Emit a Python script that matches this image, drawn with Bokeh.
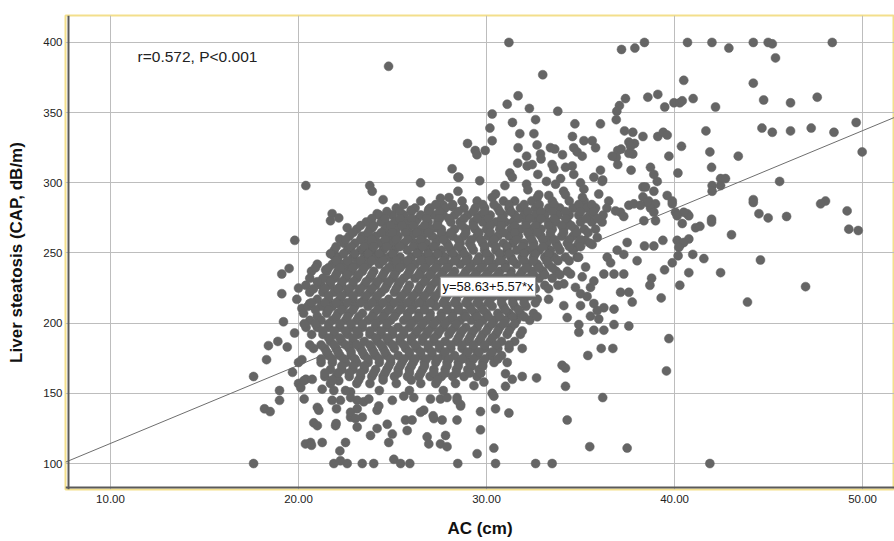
from bokeh.plotting import figure
from bokeh.models import Label, Span, FixedTicker, Range1d
from bokeh.embed import file_html
from bokeh.resources import INLINE

# ---------------- data ----------------
x_ticks = [10, 20, 30, 40, 50]
x_tick_labels = ["10.00", "20.00", "30.00", "40.00", "50.00"]
y_ticks = [100, 150, 200, 250, 300, 350, 400]

fit_intercept = 58.63
fit_slope = 5.57
r_text = "r=0.572, P<0.001"
eq_text = "y=58.63+5.57*x"

# left / upper-left periphery
left_ac = [20.39, 19.80, 19.50, 19.11, 20.00, 20.39, 19.11, 19.91,
           20.18, 19.20, 19.79, 18.90, 18.40, 19.40, 18.30, 20.00,
           20.18, 17.61, 19.68, 20.00, 20.12, 20.39, 18.99, 18.99,
           20.30, 18.19, 18.49, 17.61, 20.37, 20.27, 20.40, 23.79,
           23.92, 26.49, 28.48, 28.48, 24.50, 24.18, 21.79, 22.14,
           21.70, 22.59, 22.19, 23.38, 23.92, 24.63, 25.25, 25.69,
           26.13, 25.99, 26.31, 26.93, 27.55, 27.70, 28.17, 26.84,
           27.29, 27.38, 24.96, 25.07, 23.83, 23.56, 21.88, 22.14,
           22.77, 22.50, 21.44, 20.69, 21.21, 21.61, 22.20, 20.60,
           21.53, 22.06, 21.00, 23.65, 24.54, 24.79]
left_cap = [298, 259, 239, 235, 225, 227, 221, 217,
            210.5, 201, 193, 187, 184, 183, 174, 172,
            174, 162, 165, 157, 154, 160, 152, 145,
            146, 139, 137, 100, 114, 207, 197, 298,
            294, 300, 304, 294, 288, 278, 278, 275,
            273, 268, 260, 262, 268, 271, 271, 266,
            263.5, 280.5, 274, 281, 289, 284, 283, 266,
            268, 260, 259, 255, 255, 249, 248, 243,
            241, 237, 238, 237, 227, 231, 225.5, 214,
            209, 214, 205, 242, 246, 383]

# lower periphery
lower_ac = [21.00, 21.08, 20.81, 21.00, 20.64, 20.69, 21.26, 22.20,
            21.88, 22.23, 22.59, 23.39, 24.00, 25.07, 25.43, 25.92,
            28.47, 22.50, 21.97, 22.00, 22.77, 23.12, 23.39, 23.83,
            24.18, 24.72, 24.99, 24.80, 25.69, 26.04, 25.78, 26.84,
            26.93, 27.55, 27.90, 27.82, 27.20, 27.64, 28.43, 26.66,
            27.16, 21.79, 22.23, 22.02, 21.88, 22.77, 23.12, 22.77,
            23.47, 23.74, 24.18, 24.27, 23.12, 22.77, 23.03, 22.14,
            20.28, 20.73, 21.26, 24.99, 25.60, 26.13, 26.49, 27.02,
            27.55, 27.90, 28.43, 28.62, 28.35, 34.20, 36.18, 34.29,
            35.49, 37.48, 32.61, 33.49, 30.48, 30.39, 29.50, 29.68,
            29.68, 30.48, 31.19, 30.30, 30.39, 31.01, 31.37, 31.90,
            32.66, 31.01, 29.86, 29.33, 28.62, 28.44, 41.88, 39.57,
            39.70, 35.39, 36.10, 36.72, 34.02, 34.20]
lower_cap = [140, 138, 129, 127, 115, 113, 115, 109,
             100, 102, 100, 100, 100, 103, 100, 100,
             100, 115, 127, 128.5, 133, 126, 133, 120,
             125, 128, 121, 115, 131, 131, 123.5, 119,
             114, 114, 112, 120, 132, 131, 131, 138,
             134, 145, 145, 139, 152, 151, 145, 147,
             144, 146, 138, 141, 139, 136.5, 132, 159,
             159, 160, 153, 145, 148, 147, 136.5, 146,
             146, 147, 147, 141, 157, 155, 147, 131,
             112, 111, 100, 100, 100, 111, 107, 124,
             137, 139, 136, 150, 148, 155, 160, 162,
             161, 164, 158, 155.5, 142, 145, 100, 166,
             189, 177, 182, 182, 170, 168]

# upper periphery
upper_ac = [31.19, 37.18, 37.89, 38.40, 32.99, 31.68, 31.10, 32.28,
            30.30, 33.79, 37.39, 38.58, 39.11, 37.07, 36.93, 36.90,
            36.06, 34.70, 32.61, 31.38, 30.18, 30.30, 31.77, 32.52,
            28.99, 29.40, 29.49, 29.93, 28.17, 28.53, 29.64, 31.68,
            32.69, 33.40, 33.63, 32.87, 34.04, 32.13, 31.66, 32.16,
            32.43, 32.90, 33.49, 33.58, 34.57, 35.18, 35.62, 35.80,
            34.64, 34.82, 35.09, 34.20, 34.56, 34.64, 31.24, 31.37,
            32.73, 33.19, 33.67, 33.94, 35.71, 36.18, 36.06, 35.00,
            35.18, 30.98, 30.48, 32.13, 32.20, 32.78, 33.31, 34.10,
            34.20, 35.97, 36.98, 36.90, 36.98, 37.16, 37.34, 37.78,
            38.32, 37.87, 37.78, 37.69, 39.11, 38.72, 38.90, 38.32,
            38.46, 38.90, 38.32]
upper_cap = [400, 395, 396, 400, 377, 362, 356, 353,
             349, 351, 360, 361, 363, 355, 351, 345,
             342, 342, 345, 343, 339, 330, 335, 335,
             328, 323, 320, 323, 310, 304, 301.5, 325,
             327, 325, 324, 320.5, 320, 319, 314, 312,
             313, 317, 313, 310, 333, 330, 330, 325,
             325, 322, 319, 311, 312, 306, 307, 304,
             306, 301, 299, 303, 304, 302, 309, 300,
             295.5, 298, 292, 299, 295, 291.5, 291, 294,
             291.5, 292, 323, 318, 313, 324, 337, 336,
             333, 328, 320.5, 309, 333, 311, 306, 297,
             297, 294, 290]

# right periphery
right_ac = [40.69, 41.99, 42.89, 44.19, 44.98, 45.20, 45.37, 48.39,
            40.49, 44.19, 39.48, 39.97, 40.28, 40.41, 40.99, 42.18,
            44.74, 46.17, 47.59, 39.40, 39.61, 41.67, 44.65, 45.20,
            46.17, 47.27, 48.48, 49.66, 49.98, 37.57, 37.66, 36.69,
            37.57, 40.37, 39.70, 41.88, 43.39, 41.97, 40.18, 39.08,
            36.15, 42.00, 42.00, 42.45, 42.71, 42.45, 45.59, 44.19,
            48.03, 39.61, 38.63, 44.19, 44.49, 44.98, 45.96, 47.77,
            49.18, 49.27, 49.77, 43.03, 41.97, 41.97, 41.12, 41.35,
            40.67, 40.41, 40.76, 40.49, 40.05, 40.14, 39.88, 39.88,
            38.99, 38.72, 38.90, 38.54, 38.99, 38.37, 39.38, 38.40,
            40.14, 40.32, 40.76, 40.49, 40.23, 40.19, 40.97, 41.56,
            39.88, 39.47, 40.76, 42.45, 44.57, 38.78, 38.69, 40.28,
            39.29, 43.88, 46.97]
right_cap = [400, 400, 396, 400, 400, 399, 389, 400,
             373, 371, 354, 357, 357, 358.4, 360, 354,
             359, 357, 361, 336, 334, 337, 339, 336,
             337, 339, 336, 343, 322, 329, 326, 319,
             321, 326, 319, 322, 319, 311, 307, 301,
             301, 298, 294, 303, 303, 298, 301, 288,
             287, 291, 287, 286, 278, 275, 276, 285,
             280, 267, 266, 263, 274, 272, 268, 269,
             278, 271, 276.5, 279, 279, 276.5, 287, 285,
             285, 282, 279, 286, 273, 273, 259, 255,
             259, 256, 260, 257.5, 254, 248, 249, 246,
             243, 238, 236, 236, 245, 232, 227, 227,
             218, 215, 226]

# middle-right edge of the cloud
mid_ac = [37.57, 37.84, 38.19, 37.13, 36.86, 37.30, 38.90, 37.48,
          36.95, 37.30, 38.01, 36.42, 36.60, 36.78, 37.30, 37.13,
          37.57, 37.75, 36.78, 36.24, 35.71, 35.89, 35.53, 35.97,
          36.78, 37.57, 36.24, 35.71, 34.91, 35.00, 34.91, 34.29,
          34.11, 35.35, 35.53, 36.24, 35.71, 36.15, 35.89, 35.62,
          35.27, 34.73, 34.82, 35.27, 35.09, 34.47, 34.11, 34.73,
          35.00]
mid_cap = [284, 285, 284, 279, 280, 276, 255, 257.5,
           252, 249, 244.5, 247, 243, 235, 235, 222,
           222, 215, 210, 211, 214, 209, 205, 203,
           199, 198, 195, 195, 193.5, 212.5, 199, 204,
           212.5, 219, 225.5, 235, 230, 272, 261, 256,
           259, 254, 247, 240, 233, 235, 228, 225.5,
           221]

# dense core of the cloud (estimated), one CAP level per row
core_cap_levels = [287, 282, 277, 272, 267, 262, 257, 252, 247, 242,
                   237, 232, 227, 222, 217, 212, 207, 202, 197, 192,
                   187, 182, 177, 172, 167, 162, 157, 152]
core_ac_rows = [
    [26.5, 28.7, 29.5, 30.9, 31.5, 32.4, 33.5, 34.4, 35.2, 36.5],
    [25.2, 26.2, 27.0, 27.8, 28.8, 29.4, 29.9, 30.6, 31.2, 31.8, 32.6, 33.3, 33.9, 34.6, 35.3, 35.8, 36.4],
    [24.3, 25.0, 25.6, 26.5, 27.2, 27.7, 28.3, 29.0, 29.7, 30.2, 30.9, 31.5, 32.0, 32.6, 33.1, 33.8, 34.4, 34.9, 35.5, 36.2],
    [23.6, 24.4, 25.1, 25.7, 26.2, 26.9, 27.4, 28.1, 28.6, 29.3, 29.8, 30.5, 31.0, 31.4, 32.1, 32.7, 33.3, 33.7, 34.3, 35.0, 35.6],
    [23.1, 23.8, 24.6, 25.2, 25.8, 26.5, 27.0, 27.6, 28.3, 28.9, 29.4, 30.0, 30.7, 31.3, 31.8, 32.4, 32.9, 33.5, 34.1, 34.7, 35.2, 35.8],
    [22.7, 23.5, 24.1, 24.8, 25.3, 26.0, 26.6, 27.1, 27.8, 28.2, 28.8, 29.5, 30.1, 30.6, 31.2, 31.7, 32.3, 32.9, 33.4, 34.0, 34.6],
    [22.4, 23.0, 23.7, 24.3, 25.0, 25.6, 26.2, 26.8, 27.3, 27.9, 28.6, 29.1, 29.8, 30.3, 30.9, 31.4, 32.0, 32.5, 33.2, 33.7, 34.3, 34.9, 35.5],
    [21.9, 22.6, 23.3, 23.9, 24.5, 25.1, 25.8, 26.4, 26.9, 27.6, 28.1, 28.7, 29.3, 29.9, 30.5, 31.1, 31.6, 32.2, 32.8, 33.4, 33.9, 34.6],
    [22.1, 22.9, 23.5, 24.1, 24.8, 25.4, 26.0, 26.6, 27.2, 27.8, 28.4, 29.0, 29.6, 30.2, 30.8, 31.3, 31.9, 32.5, 33.1, 33.6, 34.2, 34.9],
    [21.0, 21.8, 22.4, 23.1, 23.7, 24.3, 25.0, 25.6, 26.2, 26.8, 27.4, 28.0, 28.6, 29.2, 29.8, 30.4, 31.0, 31.6, 32.2, 32.7, 33.3],
    [21.5, 22.1, 22.8, 23.4, 24.0, 24.6, 25.2, 25.9, 26.5, 27.1, 27.7, 28.3, 28.9, 29.5, 30.1, 30.7, 31.3, 31.9, 32.4, 33.0, 33.7, 34.3],
    [20.6, 21.3, 21.9, 22.5, 23.1, 23.8, 24.4, 25.0, 25.6, 26.2, 26.8, 27.4, 28.0, 28.6, 29.2, 29.8, 30.4, 31.0, 31.6, 32.2, 32.8, 33.5],
    [21.7, 22.3, 22.9, 23.5, 24.1, 24.7, 25.3, 25.9, 26.5, 27.1, 27.7, 28.3, 28.9, 29.5, 30.1, 30.7, 31.3, 31.9, 32.5, 33.1, 33.8],
    [20.6, 21.3, 21.9, 22.6, 23.2, 23.8, 24.4, 25.1, 25.7, 26.3, 26.9, 27.5, 28.1, 28.7, 29.3, 29.9, 30.5, 31.1, 31.7, 32.3],
    [21.0, 21.6, 22.2, 22.9, 23.5, 24.1, 24.8, 25.4, 26.0, 26.6, 27.2, 27.8, 28.4, 29.0, 29.6, 30.2, 30.8, 31.4, 32.0, 32.7, 33.3],
    [20.5, 21.2, 21.8, 22.4, 23.0, 23.7, 24.3, 24.9, 25.5, 26.1, 26.7, 27.3, 27.9, 28.5, 29.1, 29.7, 30.3, 30.9, 31.5, 32.1],
    [21.5, 22.1, 22.7, 23.4, 24.0, 24.6, 25.2, 25.8, 26.4, 27.0, 27.6, 28.2, 28.8, 29.4, 30.0, 30.6, 31.2, 31.8, 32.5],
    [20.6, 21.2, 21.8, 22.5, 23.1, 23.7, 24.3, 24.9, 25.6, 26.2, 26.8, 27.4, 28.0, 28.6, 29.2, 29.8, 30.4, 31.0, 31.6, 32.3],
    [21.0, 21.6, 22.2, 22.8, 23.4, 24.1, 24.7, 25.3, 25.9, 26.5, 27.1, 27.7, 28.3, 28.9, 29.5, 30.1, 30.7, 31.3],
    [20.7, 21.3, 21.9, 22.6, 23.2, 23.8, 24.4, 25.0, 25.6, 26.2, 26.8, 27.4, 28.0, 28.6, 29.2, 29.8, 30.5, 31.1, 31.8],
    [21.7, 22.3, 22.9, 23.5, 24.2, 24.8, 25.4, 26.0, 26.6, 27.2, 27.8, 28.4, 29.0, 29.6, 30.2, 30.8, 31.5],
    [20.8, 21.4, 22.0, 22.7, 23.3, 23.9, 24.5, 25.1, 25.7, 26.3, 26.9, 27.5, 28.1, 28.7, 29.3, 29.9, 30.6, 31.2, 31.9],
    [21.6, 22.2, 22.8, 23.5, 24.1, 24.7, 25.3, 25.9, 26.5, 27.1, 27.7, 28.3, 28.9, 29.5, 30.2, 30.8],
    [21.2, 21.8, 22.5, 23.1, 23.7, 24.3, 24.9, 25.5, 26.1, 26.7, 27.3, 27.9, 28.5, 29.1, 29.8, 30.4, 31.1],
    [21.7, 22.3, 22.9, 23.5, 24.1, 24.7, 25.3, 25.9, 26.6, 27.2, 27.8, 28.4, 29.0, 29.6],
    [21.4, 22.0, 22.7, 23.3, 23.9, 24.5, 25.1, 25.8, 26.4, 27.0, 27.6, 28.2, 28.8, 29.5],
    [21.7, 23.1, 23.8, 25.2, 26.5, 27.3],
    [22.5, 24.3, 25.9, 27.7],
]

# second, interleaved layer of the dense core (estimated)
core2_cap_levels = [289.5, 284.5, 279.5, 274.5, 269.5, 264.5, 259.5, 254.5, 249.5,
                    244.5, 239.5, 234.5, 229.5, 224.5, 219.5, 214.5, 209.5, 204.5,
                    199.5, 194.5, 189.5, 184.5, 179.5, 174.5, 169.5, 164.5, 159.5]
core2_ac_rows = [
    [28.0, 30.3, 32.7, 35.1],
    [25.6, 27.3, 28.2, 29.8, 30.4, 31.2, 32.0, 32.8, 33.6, 34.9, 35.6],
    [24.7, 25.4, 26.0, 26.9, 27.5, 28.5, 29.3, 29.9, 30.7, 31.3, 32.2, 32.9, 33.5, 34.2, 35.0, 35.7],
    [23.9, 24.6, 25.4, 26.0, 26.8, 27.5, 28.0, 28.8, 29.5, 30.1, 30.8, 31.7, 32.3, 32.9, 33.6, 34.2, 35.3, 35.9],
    [23.3, 24.0, 24.9, 25.5, 26.1, 26.7, 27.4, 28.7, 29.3, 30.2, 30.8, 31.5, 32.1, 32.6, 33.3, 34.0, 34.5],
    [22.9, 23.7, 24.4, 25.0, 25.7, 26.3, 26.9, 27.6, 28.1, 28.9, 29.6, 30.2, 30.9, 31.5, 32.2, 32.7, 33.4, 34.1, 34.8, 35.4],
    [22.5, 23.3, 23.9, 24.6, 25.2, 25.8, 26.5, 27.7, 28.5, 29.2, 29.7, 30.4, 31.6, 32.4, 33.0, 33.6, 34.4, 35.0],
    [22.0, 22.8, 23.5, 24.0, 24.7, 25.4, 26.1, 26.6, 27.2, 28.0, 28.5, 29.2, 29.9, 30.5, 31.1, 31.9, 32.5, 33.0, 33.8, 34.4, 35.0],
    [21.7, 22.4, 23.0, 23.7, 24.3, 25.0, 26.3, 26.9, 27.4, 28.2, 28.8, 30.0, 30.7, 31.2, 32.0, 32.6, 33.3],
    [22.0, 22.6, 23.3, 23.9, 24.5, 25.2, 25.8, 26.5, 27.0, 27.7, 28.3, 28.9, 29.5, 30.1, 30.7, 31.4, 32.0, 32.5, 33.2, 33.8, 34.4],
    [20.9, 21.6, 22.2, 22.9, 23.5, 24.8, 25.4, 26.0, 26.7, 27.3, 27.9, 29.1, 29.7, 30.3, 31.0, 32.1, 32.8, 33.5],
    [22.0, 22.6, 23.2, 23.9, 24.5, 25.1, 25.8, 26.4, 27.0, 27.6, 28.2, 28.8, 29.4, 30.0, 30.6, 31.3, 31.8, 32.5, 33.1, 33.9],
    [21.0, 21.7, 22.3, 22.9, 23.6, 24.2, 24.8, 25.4, 26.7, 27.3, 27.9, 28.5, 29.1, 29.7, 30.9, 31.5, 32.1],
    [20.8, 21.4, 22.1, 22.7, 23.3, 23.9, 24.6, 25.2, 25.8, 26.4, 27.0, 27.6, 28.2, 28.8, 29.5, 30.1, 30.7, 31.4, 32.0, 32.6, 33.3],
    [21.6, 22.3, 22.9, 23.6, 24.2, 25.5, 26.1, 26.7, 27.3, 27.9, 29.2, 29.8, 30.4, 31.0, 31.7, 32.3],
    [20.7, 21.4, 22.0, 22.6, 23.3, 23.9, 24.5, 25.1, 25.8, 26.4, 27.0, 27.7, 28.3, 28.9, 29.5, 30.1, 30.8, 31.4, 32.0, 32.6],
    [20.9, 21.6, 22.3, 22.9, 24.2, 24.8, 25.4, 26.0, 26.7, 27.9, 28.5, 29.2, 29.8, 31.0, 31.7],
    [22.0, 22.6, 23.2, 23.9, 24.5, 25.1, 25.8, 26.4, 27.0, 27.6, 28.2, 28.9, 29.5, 30.1, 30.7, 31.4, 32.0, 32.7],
    [20.3, 20.9, 21.6, 22.2, 22.8, 23.4, 24.1, 24.7, 26.0, 26.6, 27.2, 27.8, 28.4, 29.6, 30.3, 30.9, 31.5],
    [21.3, 21.9, 22.5, 23.1, 23.8, 24.4, 25.0, 25.6, 26.3, 26.9, 27.5, 28.1, 28.7, 29.3, 30.0, 30.6, 31.2, 31.9],
    [21.6, 22.2, 22.9, 24.1, 24.7, 25.4, 26.0, 26.6, 27.2, 28.5, 29.1, 29.7, 30.3],
    [20.6, 21.2, 21.9, 22.5, 23.1, 23.8, 24.4, 25.0, 25.6, 26.2, 26.9, 27.5, 28.1, 28.7, 29.3, 29.9, 30.5, 31.2],
    [21.5, 22.1, 22.8, 23.4, 24.0, 24.6, 25.9, 26.5, 27.1, 27.8, 29.0, 29.6, 30.3],
    [21.2, 21.8, 22.4, 23.0, 23.7, 24.3, 24.9, 25.6, 26.2, 26.8, 27.4, 28.0, 28.7, 29.3, 29.9, 30.6],
    [22.3, 22.9, 23.5, 24.8, 25.4, 26.0, 26.7, 27.9, 28.5, 29.2, 29.8],
    [21.4, 22.1, 22.7, 23.3, 24.0, 24.6, 25.3, 25.9, 26.5, 27.2, 27.8, 28.4, 29.1, 29.7],
    [21.8, 23.2, 24.5, 26.0, 27.4],
]

# ---------------- assemble ----------------
ac = left_ac + lower_ac + upper_ac + right_ac + mid_ac
cap = left_cap + lower_cap + upper_cap + right_cap + mid_cap
for levels, rows in ((core_cap_levels, core_ac_rows), (core2_cap_levels, core2_ac_rows)):
    for level, row in zip(levels, rows):
        ac = ac + row
        cap = cap + [level] * len(row)

FONT = "Liberation Sans"
X0, X1 = 7.606, 51.70
Y0, Y1 = 81.5, 419.2

p = figure(width=894, height=541, x_range=Range1d(X0, X1), y_range=Range1d(Y0, Y1),
           output_backend="svg", toolbar_location=None,
           min_border_left=65, min_border_right=0, min_border_top=15, min_border_bottom=52)
p.background_fill_color = "white"
p.border_fill_color = "white"
p.outline_line_color = "#f3df8c"
p.outline_line_width = 2

# grid
p.xgrid.ticker = FixedTicker(ticks=x_ticks)
p.ygrid.ticker = FixedTicker(ticks=y_ticks)
for g in (p.xgrid, p.ygrid):
    g.grid_line_color = "#bdbdbd"
    g.grid_line_width = 1

# axes
p.xaxis.ticker = FixedTicker(ticks=x_ticks)
p.xaxis.major_label_overrides = {t: l for t, l in zip(x_ticks, x_tick_labels)}
p.yaxis.ticker = FixedTicker(ticks=y_ticks)
for ax in (p.xaxis, p.yaxis):
    ax.axis_line_color = None
    ax.major_tick_line_color = None
    ax.minor_tick_line_color = None
    ax.major_tick_out = 0
    ax.major_tick_in = 0
    ax.major_label_text_font = FONT
    ax.major_label_text_font_size = "11.5px"
    ax.major_label_text_color = "#222222"
    ax.axis_label_text_font = FONT
    ax.axis_label_text_font_style = "bold"
    ax.axis_label_text_font_size = "17px"
    ax.axis_label_text_color = "#111111"
p.xaxis.axis_label = "AC (cm)"
p.yaxis.axis_label = "Liver steatosis (CAP, dB/m)"
p.xaxis.major_label_standoff = 5
p.yaxis.major_label_standoff = 3
p.xaxis.axis_label_standoff = 13
p.yaxis.axis_label_standoff = 14

# dark axis lines slightly inside the yellow frame
p.add_layout(Span(location=X0 + 3 / 18.8, dimension="height", line_color="#5a5a5a", line_width=2))
p.add_layout(Span(location=Y0 + 2 / 1.405, dimension="width", line_color="#5a5a5a", line_width=2))

# fit line
fx = [X0, X1]
fy = [fit_intercept + fit_slope * v for v in fx]
p.line(fx, fy, line_color="#6e6e6e", line_width=1)

# points
p.scatter(ac, cap, size=9, fill_color="#656565", line_color="#656565", line_width=0.5)

p.add_layout(Label(x=11.44, y=389.7, text=r_text, text_font=FONT, text_font_size="15.5px",
                   text_color="#222222", text_align="left", text_baseline="middle"))
p.add_layout(Label(x=27.55, y=226.0, text=eq_text, text_font=FONT, text_font_size="13px",
                   text_color="#111111", text_align="left", text_baseline="middle",
                   background_fill_color="white", border_line_color="#9a9a9a",
                   border_line_width=1, padding=2))

open("out.html", "w").write(file_html(p, INLINE))
